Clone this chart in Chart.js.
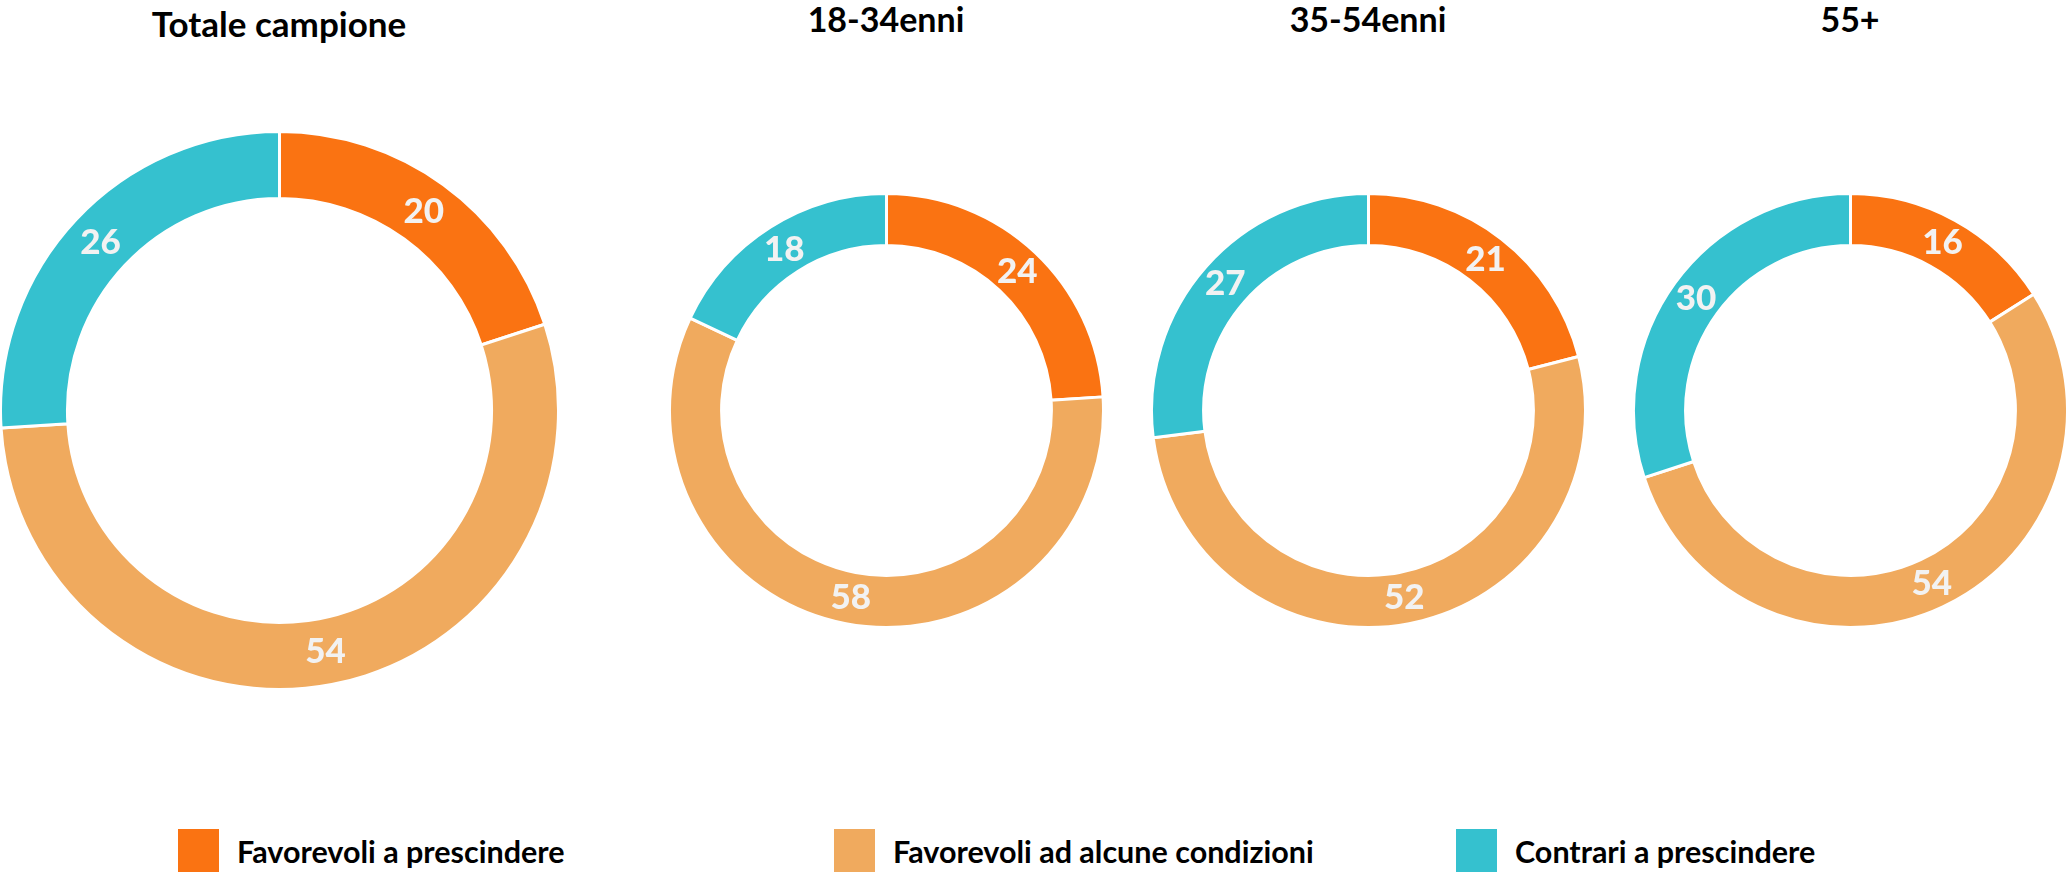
<!DOCTYPE html>
<html>
<head>
<meta charset="utf-8">
<script src="https://cdn.jsdelivr.net/npm/chart.js@4.4.1/dist/chart.umd.min.js"></script>
<style>
  html, body { margin: 0; padding: 0; background: #fff; }
  body { width: 2066px; height: 873px; position: relative; overflow: hidden; font-family: Lato, "Open Sans", sans-serif; }
  .title { position: absolute; transform: translate(-50%, -50%); font-weight: bold; font-size: 34px; color: #000; white-space: nowrap; }
  .chartbox { position: absolute; }
  .leg { position: absolute; top: 829px; height: 43px; display: flex; align-items: center; white-space: nowrap; }
  .leg .sw { width: 41px; height: 43px; margin-right: 18px; }
  .leg .tx { font-weight: bold; font-size: 30.5px; color: #000; }
</style>
</head>
<body>
<script>
const categories = ["Favorevoli a prescindere", "Favorevoli ad alcune condizioni", "Contrari a prescindere"];
const colors = ["#FA7312", "#F0AA5E", "#35C1CF"];
const groups = ["Totale campione", "18-34enni", "35-54enni", "55+"];
const totale = [20, 54, 26];
const eta1834 = [24, 58, 18];
const eta3554 = [21, 52, 27];
const eta55 = [16, 54, 30];
const series = [totale, eta1834, eta3554, eta55];

// layout: centre x, centre y, outer radius, title y, title size
const layout = [
  { cx: 279, cy: 410, r: 279, ty: 23, fs: 35 },
  { cx: 886, cy: 410, r: 217, ty: 18, fs: 34 },
  { cx: 1368, cy: 410, r: 217, ty: 18, fs: 34 },
  { cx: 1850, cy: 410, r: 217, ty: 18, fs: 34 }
];
const legendLeft = [178, 834, 1456];
const border = 3;

const valueLabels = {
  id: 'valueLabels',
  afterDatasetsDraw(chart) {
    const ctx = chart.ctx;
    const meta = chart.getDatasetMeta(0);
    ctx.save();
    ctx.fillStyle = '#F2F2F2';
    ctx.font = '900 35px Lato';
    ctx.textAlign = 'center';
    ctx.textBaseline = 'middle';
    meta.data.forEach((arc, i) => {
      const p = arc.tooltipPosition();
      ctx.fillText(chart.data.datasets[0].data[i], p.x, p.y);
    });
    ctx.restore();
  }
};

groups.forEach((g, k) => {
  const L = layout[k];
  const t = document.createElement('div');
  t.className = 'title';
  t.style.left = L.cx + 'px';
  t.style.top = L.ty + 'px';
  t.style.fontSize = L.fs + 'px';
  t.textContent = g;
  document.body.appendChild(t);

  const size = 2 * L.r + border;
  const box = document.createElement('div');
  box.className = 'chartbox';
  box.style.left = (L.cx - size / 2) + 'px';
  box.style.top = (L.cy - size / 2) + 'px';
  box.style.width = size + 'px';
  box.style.height = size + 'px';
  const cv = document.createElement('canvas');
  box.appendChild(cv);
  document.body.appendChild(box);

  new Chart(cv, {
    type: 'doughnut',
    data: {
      labels: categories,
      datasets: [{
        data: series[k],
        backgroundColor: colors,
        borderColor: '#FFFFFF',
        borderWidth: border
      }]
    },
    options: {
      responsive: true,
      maintainAspectRatio: false,
      animation: false,
      cutout: '76%',
      layout: { padding: 0 },
      plugins: { legend: { display: false }, tooltip: { enabled: false } }
    },
    plugins: [valueLabels]
  });
});

categories.forEach((c, i) => {
  const item = document.createElement('div');
  item.className = 'leg';
  item.style.left = legendLeft[i] + 'px';
  const sw = document.createElement('div');
  sw.className = 'sw';
  sw.style.background = colors[i];
  const tx = document.createElement('div');
  tx.className = 'tx';
  tx.textContent = c;
  item.appendChild(sw);
  item.appendChild(tx);
  document.body.appendChild(item);
});
</script>
</body>
</html>
